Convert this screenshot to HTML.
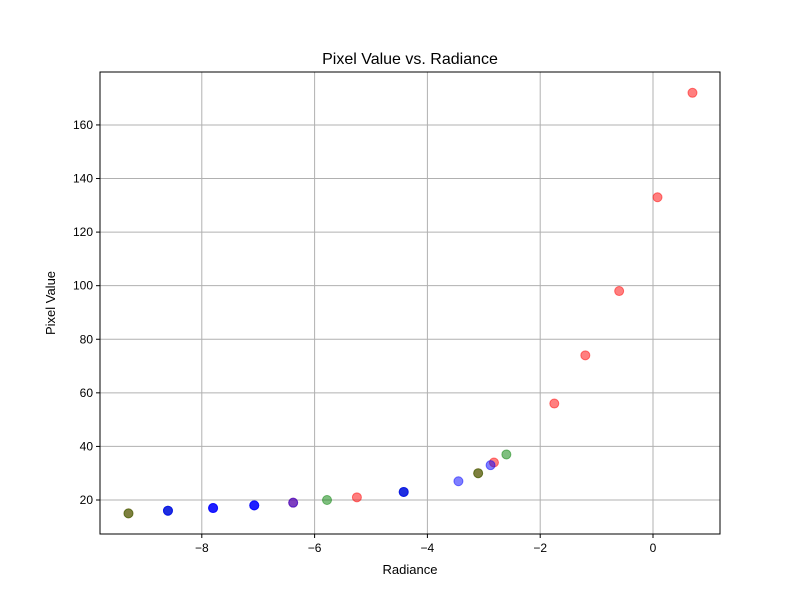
<!DOCTYPE html>
<html><head><meta charset="utf-8"><style>body{margin:0;background:#fff}svg{display:block;font-family:"Liberation Sans","DejaVu Sans",sans-serif}</style></head>
<body>
<svg id="c" width="800" height="600"></svg>
<script>
const redX=[-9.3,-6.38,-5.25,-3.1,-2.82,-1.75,-1.2,-0.6,0.08,0.7];
const redY=[15,19,21,30,34,56,74,98,133,172];
const greenX=[-9.3,-8.6,-5.78,-4.42,-3.1,-2.6];
const greenY=[15,16,20,23,30,37];
const blueX=[-8.6,-8.6,-7.8,-7.8,-7.8,-7.07,-7.07,-7.07,-6.38,-4.42,-4.42,-3.45,-2.88];
const blueY=[16,16,17,17,17,18,18,18,19,23,23,27,33];
const xTicks=[-8,-6,-4,-2,0];
const yTicks=[20,40,60,80,100,120,140,160];
const NS="http://www.w3.org/2000/svg";
const svg=document.getElementById('c');
const L=100,R=720,T=72,B=534;
const sx=v=>653+56.4*v, sy=v=>500-(v-20)*2.679;
function mk(t,a,p){const e=document.createElementNS(NS,t);for(const k in a)e.setAttribute(k,a[k]);(p||svg).appendChild(e);return e;}
const grid=mk('g',{});


xTicks.forEach(v=>{const x=sx(v);mk('line',{x1:x,x2:x,y1:T,y2:B,stroke:'#b0b0b0','stroke-width':1},grid);
mk('line',{x1:x,x2:x,y1:B,y2:B+4,stroke:'#000'});
const t=mk('text',{x:x,y:B+18,'text-anchor':'middle','font-size':12});t.textContent=(v<0?'\u2212'+(-v):v);

});
yTicks.forEach(v=>{const y=sy(v);mk('line',{x1:L,x2:R,y1:y,y2:y,stroke:'#b0b0b0','stroke-width':1},grid);
mk('line',{x1:L-4,x2:L,y1:y,y2:y,stroke:'#000'});
const t=mk('text',{x:L-7,y:y+4,'text-anchor':'end','font-size':12});t.textContent=v;

});
function series(xs,ys,col,name){const g=mk('g',{});


xs.forEach((v,i)=>{const c=mk('circle',{cx:sx(v),cy:sy(ys[i]),r:4.5,fill:col,'fill-opacity':0.5,stroke:col,'stroke-opacity':0.5,'stroke-width':1},g);

});}
series(redX,redY,'#ff0000','red-series');
series(greenX,greenY,'#008000','green-series');
series(blueX,blueY,'#0000ff','blue-series');
const f=mk('rect',{x:L,y:T,width:R-L,height:B-T,fill:'none',stroke:'#000','stroke-width':1});


let t=mk('text',{x:410,y:64,'text-anchor':'middle','font-size':16});t.textContent='Pixel Value vs. Radiance';


t=mk('text',{x:410,y:574,'text-anchor':'middle','font-size':13});t.textContent='Radiance';


t=mk('text',{x:55,y:303,'text-anchor':'middle','font-size':13,transform:'rotate(-90 55 303)'});t.textContent='Pixel Value';


</script>
</body></html>
